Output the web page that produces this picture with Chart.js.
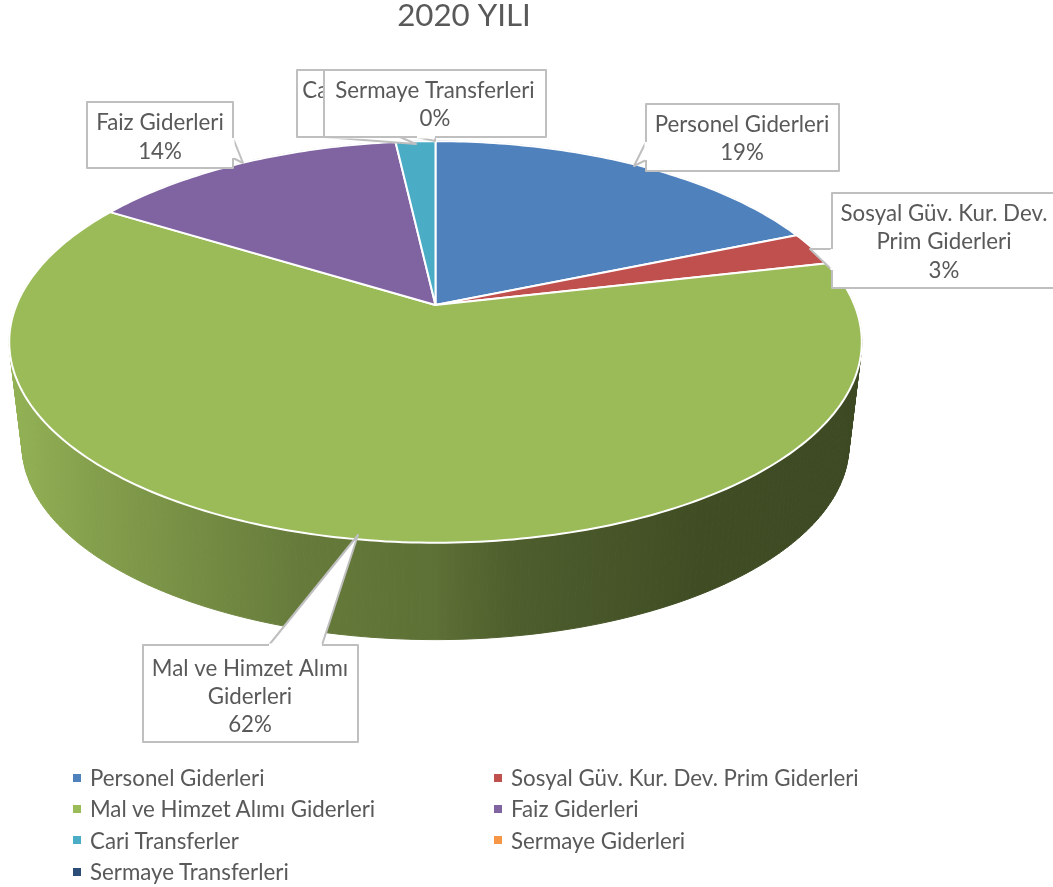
<!DOCTYPE html>
<html>
<head>
<meta charset="utf-8">
<title>2020 YILI</title>
<script src="https://cdn.jsdelivr.net/npm/chart.js@4"></script>
<style>
    html, body { margin: 0; padding: 0; background: #fff; }
    #wrap { position: relative; width: 1053px; height: 887px; overflow: hidden; }
    canvas { display: block; }
    #legend { position: absolute; left: 73px; top: 762px; display: grid; grid-template-columns: 421px 421px; grid-auto-rows: 31.3px; font: 22.3px Lato, sans-serif; color: #595959; }
    .legend-item { display: flex; align-items: center; white-space: nowrap; }
    .legend-box { width: 8px; height: 8px; margin-right: 9px; }
</style>
</head>
<body>
<div id="wrap">
    <canvas id="pie" width="1053" height="887"></canvas>
    <div id="legend"></div>
</div>
<script>
// Data
const categories = ['Personel Giderleri', 'Sosyal Güv. Kur. Dev. Prim Giderleri', 'Mal ve Himzet Alımı Giderleri', 'Faiz Giderleri', 'Cari Transferler', 'Sermaye Giderleri', 'Sermaye Transferleri'];
const shares = [18.7, 2.7, 62.4, 14.4, 1.8, 0, 0];
const colors = ['#4F81BD', '#C0504D', '#9BBB59', '#8064A2', '#4BACC6', '#F79646', '#2C4D75'];

// Wrapped category names for the callouts
const calloutLines = [
    ['Personel Giderleri'],
    ['Sosyal Güv. Kur. Dev.', 'Prim Giderleri'],
    ['Mal ve Himzet Alımı', 'Giderleri'],
    ['Faiz Giderleri'],
    ['Cari Transferler'],
    null,
    ['Sermaye Transferleri']
];

// Perspective of the disk: apex on screen, radii and tilt
const APEX_X = 435.5, APEX_Y = 305;
const RADIUS_X = 419, RADIUS_Y = 194, TILT = 0.184;
// Lower rim of the disk
const BOTTOM_Y = 409, BOTTOM_SCALE = 0.97;

// Brightness of the side wall from left to right
const wallStops = [[0, 0.95], [0.1, 0.85], [0.34, 0.66], [0.5, 0.6], [0.59, 0.5], [0.81, 0.41], [1, 0.39]];

// Callout boxes, tail goes from -> tip -> to
const callouts = [
    { box: [646, 104, 839, 171], tail: [[646, 142], [634, 166], [646, 160]], textX: 742, textY: [125, 153] },
    { box: [832, 193, 1070, 288], tail: [[832, 249], [810, 249], [832, 270]], textX: 944, textY: [214, 242, 271] },
    { box: [143, 645, 358, 742], tail: [[322, 645], [358, 535], [269, 645]], textX: 250, textY: [669, 697, 725] },
    { box: [87, 102, 233, 168], tail: [[233, 138], [243, 163], [233, 158]], textX: 160, textY: [123, 152] },
    { box: [297, 70, 477, 137], tail: [[324, 137], [416, 144], [400, 137]], textX: 377, textY: [91, 119] },
    null,
    { box: [324, 70, 546, 137], tail: [[417, 137], [435, 141], [435, 137]], textX: 435, textY: [91, 119] }
];

function project(theta, bottom) {
    const scale = bottom ? BOTTOM_SCALE : 1;
    const originY = bottom ? BOTTOM_Y : APEX_Y;
    const depth = 1 / (1 + TILT * Math.cos(theta));
    return {
        x: APEX_X + RADIUS_X * scale * Math.sin(theta) * depth,
        y: originY - RADIUS_Y * scale * Math.cos(theta) * depth
    };
}

function shade(hex, factor) {
    const n = parseInt(hex.slice(1), 16);
    const r = Math.round((n >> 16) * factor);
    const g = Math.round(((n >> 8) & 255) * factor);
    const b = Math.round((n & 255) * factor);
    return `rgb(${r},${g},${b})`;
}

// Arc that lays its library angles on the tilted disk
class Arc3D extends Chart.ArcElement {
    static id = 'arc3d';

    rim(bottom) {
        const start = this.startAngle + Math.PI / 2;
        const end = this.endAngle + Math.PI / 2;
        const steps = Math.max(2, Math.ceil((end - start) * 60));
        const points = [];
        for (let i = 0; i <= steps; i++) {
            points.push(project(start + (end - start) * i / steps, bottom));
        }
        return points;
    }

    drawWall(ctx) {
        if (this.endAngle - this.startAngle < 0.001) return;
        const gradient = ctx.createLinearGradient(10, 0, 861, 0);
        wallStops.forEach(stop => gradient.addColorStop(stop[0], shade(this.options.backgroundColor, stop[1])));

        // One quad per step, so the part that bends round the disk edge is filled too
        const upper = this.rim(false);
        const lower = this.rim(true);
        ctx.fillStyle = gradient;
        ctx.strokeStyle = gradient;
        ctx.lineWidth = 1;
        for (let i = 0; i < upper.length - 1; i++) {
            ctx.beginPath();
            ctx.moveTo(upper[i].x, upper[i].y);
            ctx.lineTo(upper[i + 1].x, upper[i + 1].y);
            ctx.lineTo(lower[i + 1].x, lower[i + 1].y);
            ctx.lineTo(lower[i].x, lower[i].y);
            ctx.closePath();
            ctx.fill();
            ctx.stroke();
        }
    }

    draw(ctx) {
        if (this.endAngle - this.startAngle < 0.001) return;
        ctx.beginPath();
        ctx.moveTo(APEX_X, APEX_Y);
        this.rim(false).forEach(p => ctx.lineTo(p.x, p.y));
        ctx.closePath();
        ctx.fillStyle = this.options.backgroundColor;
        ctx.fill();
        ctx.lineJoin = 'round';
        ctx.lineWidth = this.options.borderWidth;
        ctx.strokeStyle = this.options.borderColor;
        ctx.stroke();
    }
}

class Pie3DController extends Chart.PieController {
    static id = 'pie3d';
    static defaults = { dataElementType: 'arc3d' };

    draw() {
        const ctx = this.chart.ctx;
        const arcs = this.getMeta().data;
        arcs.forEach(arc => arc.drawWall(ctx));
        arcs.forEach(arc => arc.draw(ctx));
    }
}

Chart.register(Arc3D, Pie3DController);

// Boxed labels with their tails
const calloutPlugin = {
    id: 'callouts',
    afterDatasetsDraw(chart) {
        const ctx = chart.ctx;
        const values = chart.data.datasets[0].data;
        const total = values.reduce((a, b) => a + b, 0);

        ctx.save();
        callouts.forEach((c, i) => {
            if (!c) return;
            const [left, top, right, bottom] = c.box;
            const [a, tip, b] = c.tail;

            ctx.beginPath();
            ctx.rect(left, top, right - left, bottom - top);
            ctx.fillStyle = '#fff';
            ctx.fill();
            ctx.lineWidth = 2;
            ctx.strokeStyle = '#BFBFBF';
            ctx.stroke();

            // tail, white inside so it covers the box line at its root
            ctx.beginPath();
            ctx.moveTo(a[0], a[1]);
            ctx.lineTo(tip[0], tip[1]);
            ctx.lineTo(b[0], b[1]);
            ctx.fill();
            ctx.stroke();
            ctx.beginPath();
            ctx.moveTo(a[0], a[1]);
            ctx.lineTo(b[0], b[1]);
            ctx.lineWidth = 3;
            ctx.strokeStyle = '#fff';
            ctx.stroke();

            const lines = calloutLines[i].concat(Math.round(values[i] / total * 100) + '%');
            ctx.fillStyle = '#595959';
            ctx.font = '22.3px Lato, sans-serif';
            ctx.textAlign = 'center';
            ctx.textBaseline = 'middle';
            lines.forEach((line, n) => ctx.fillText(line, c.textX, c.textY[n]));
        });
        ctx.restore();
    }
};

const pieChart = new Chart(document.getElementById('pie'), {
    type: 'pie3d',
    data: {
        labels: categories,
        datasets: [{
            data: shares,
            backgroundColor: colors,
            borderColor: '#ffffff',
            borderWidth: 2
        }]
    },
    options: {
        responsive: false,
        animation: false,
        layout: { padding: { right: 125 } },
        plugins: {
            legend: { display: false },
            tooltip: { enabled: false },
            title: {
                display: true,
                text: '2020 YILI',
                fullSize: false,
                color: '#595959',
                font: { family: 'Lato, sans-serif', size: 31.3, weight: 'normal', lineHeight: 1 },
                padding: 0
            }
        }
    },
    plugins: [calloutPlugin]
});

// Legend in two columns
const legend = document.getElementById('legend');
categories.forEach((name, i) => {
    const item = document.createElement('div');
    item.className = 'legend-item';
    item.innerHTML = `<span class="legend-box" style="background:${colors[i]}"></span><span>${name}</span>`;
    legend.appendChild(item);
});
</script>
</body>
</html>
